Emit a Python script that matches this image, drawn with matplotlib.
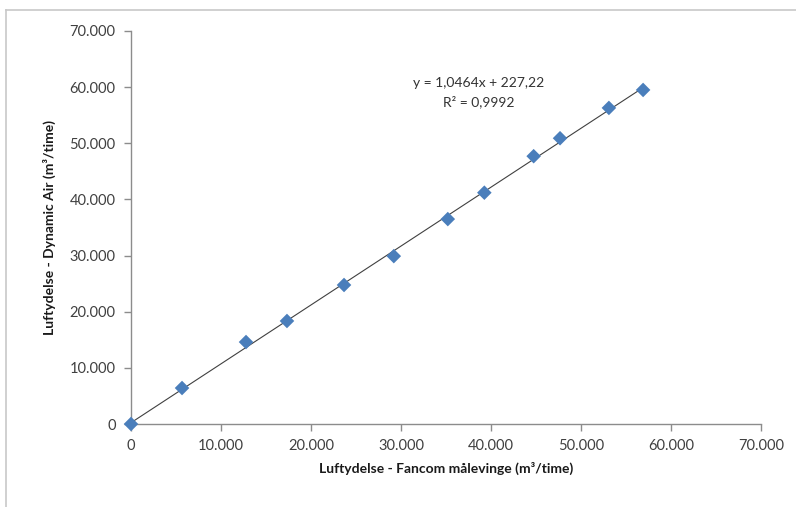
import numpy as np
import matplotlib.pyplot as plt
from matplotlib.lines import Line2D
from matplotlib.ticker import FuncFormatter

## Data (m3/time)
fancom = [0, 5670, 12780, 17330, 23670, 29200, 35200, 39260, 44740, 47670, 53100, 56900]
dynamic_air = [0, 6410, 14600, 18350, 24760, 29900, 36500, 41200, 47700, 50900, 56300, 59500]
ticks = [0, 10000, 20000, 30000, 40000, 50000, 60000, 70000]

plt.rcParams['font.family'] = ['Lato', 'DejaVu Sans']

fig = plt.figure(figsize=(7.96, 5.07), dpi=100)
ax = fig.add_axes([131/796, 1 - 424/507, 630/796, 393/507])

## Ramme rundt om diagrammet
fig.add_artist(Line2D([6/796, 1], [1 - 10/507, 1 - 10/507], color='#c8c8c8', lw=1.2))
fig.add_artist(Line2D([6/796, 6/796], [0, 1 - 10/507], color='#c8c8c8', lw=1.2))

## Lineær regression (tendenslinje)
a, b = np.polyfit(fancom, dynamic_air, 1)
x_line = np.array([0, max(fancom)])
ax.plot(x_line, a * x_line + b, color='#404040', lw=0.8, zorder=2)

ax.scatter(fancom, dynamic_air, marker='D', s=55, color='#4a7ebb', edgecolors='none',
           zorder=3, clip_on=False)

ax.text(479/796, 1 - 83/507, 'y = 1,0464x + 227,22', transform=fig.transFigure, fontsize=10,
        color='#333333', ha='center', va='center')
ax.text(479/796, 1 - 102/507, 'R² = 0,9992', transform=fig.transFigure, fontsize=10,
        color='#333333', ha='center', va='center')

ax.set_xlim(0, 70000)
ax.set_ylim(0, 70000)
ax.set_xticks(ticks)
ax.set_yticks(ticks)
fmt = FuncFormatter(lambda v, p: '0' if v == 0 else f'{int(v):,}'.replace(',', '.'))
ax.xaxis.set_major_formatter(fmt)
ax.yaxis.set_major_formatter(fmt)

for side in ['top', 'right']:
    ax.spines[side].set_visible(False)
for side in ['left', 'bottom']:
    ax.spines[side].set_color('#8c8c8c')
    ax.spines[side].set_linewidth(1.0)
ax.tick_params(colors='#8c8c8c', labelcolor='#404040', labelsize=10.5, length=5, width=1.0)
ax.tick_params(axis='x', pad=6)
ax.tick_params(axis='y', pad=6)

ax.set_xlabel('Luftydelse - Fancom målevinge (m³/time)', fontsize=10, fontweight='bold',
              color='#1a1a1a', labelpad=6)
ax.set_ylabel('Luftydelse - Dynamic Air (m³/time)', fontsize=10, fontweight='bold',
              color='#1a1a1a', labelpad=10)

fig.savefig('out.png', dpi=100)
